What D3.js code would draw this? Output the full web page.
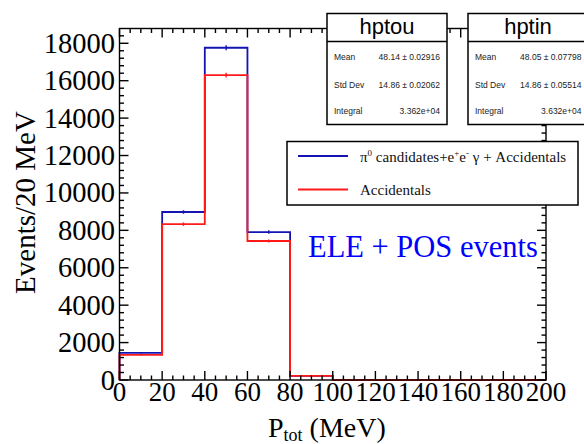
<!DOCTYPE html>
<html>
<head>
<meta charset="utf-8">
<script src="https://cdn.jsdelivr.net/npm/d3@7"></script>
<style>
  html, body { margin: 0; padding: 0; background: #fff; }
  svg { display: block; }
</style>
</head>
<body>
<svg id="chart" width="584" height="444"></svg>
<script>
// P_tot histograms, 20 MeV bins from 0 to 200 MeV
const binEdges = [0, 20, 40, 60, 80, 100, 120, 140, 160, 180, 200];
const signalPlusAcc = [1450, 8980, 17760, 7910, 220, 0, 0, 0, 0, 0];   // hptin
const accidentals   = [1340, 8330, 16300, 7430, 220, 0, 0, 0, 0, 0];   // hptou
const xTicks = [0, 20, 40, 60, 80, 100, 120, 140, 160, 180, 200];
const yTicks = [0, 2000, 4000, 6000, 8000, 10000, 12000, 14000, 16000, 18000];

const statsOut = { name: "hptou", mean: "48.14 \u00b1 0.02916", std: "14.86 \u00b1 0.02062", integral: "3.362e+04" };
const statsIn  = { name: "hptin", mean: "48.05 \u00b1 0.07798", std: "14.86 \u00b1 0.05514", integral: "3.632e+04" };

const svg = d3.select("#chart");
const serif = "'Liberation Serif', 'Times New Roman', serif";
const sans = "'Liberation Sans', Arial, sans-serif";
const BLUE = "#1414b4", RED = "#ff1a1a";

const frame = { left: 119.5, right: 546, top: 28.5, bottom: 380 };
const x = d3.scaleLinear().domain([0, 200]).range([frame.left, frame.right]);
const y = d3.scaleLinear().domain([0, 18790]).range([frame.bottom, frame.top]);

svg.append("rect").attr("width", 584).attr("height", 444).attr("fill", "#fff");

// histogram outlines
function stepPoints(values) {
  const pts = [[binEdges[0], 0]];
  values.forEach((v, i) => { pts.push([binEdges[i], v]); pts.push([binEdges[i + 1], v]); });
  pts.push([binEdges[binEdges.length - 1], 0]);
  return pts;
}
const line = d3.line().x(d => x(d[0])).y(d => y(d[1]));

function drawHist(values, color) {
  const g = svg.append("g");
  g.append("path").attr("d", line(stepPoints(values)))
    .attr("fill", "none").attr("stroke", color).attr("stroke-width", 1.8);
  values.forEach((v, i) => {
    if (v <= 0) return;
    const c = (binEdges[i] + binEdges[i + 1]) / 2, e = Math.sqrt(v);
    g.append("line").attr("x1", x(c)).attr("x2", x(c))
      .attr("y1", y(v - e)).attr("y2", y(v + e))
      .attr("stroke", color).attr("stroke-width", 1.4);
  });
}
drawHist(signalPlusAcc, BLUE);
drawHist(accidentals, RED);

// frame and inward ticks on all four sides
const axes = svg.append("g").attr("stroke", "#000").attr("stroke-width", 1.4).attr("fill", "none");
const xMinor = d3.range(0, 201, 5);
const yMinor = d3.range(0, 18791, 400);
xMinor.forEach(v => {
  const len = v % 20 === 0 ? 9 : 4.5;
  axes.append("line").attr("x1", x(v)).attr("x2", x(v)).attr("y1", frame.bottom).attr("y2", frame.bottom - len);
  axes.append("line").attr("x1", x(v)).attr("x2", x(v)).attr("y1", frame.top).attr("y2", frame.top + len);
});
yMinor.forEach(v => {
  const len = v % 2000 === 0 ? 9 : 4.5;
  axes.append("line").attr("y1", y(v)).attr("y2", y(v)).attr("x1", frame.left).attr("x2", frame.left + len);
  axes.append("line").attr("y1", y(v)).attr("y2", y(v)).attr("x1", frame.right).attr("x2", frame.right - len);
});
axes.append("rect").attr("x", frame.left).attr("y", frame.top)
  .attr("width", frame.right - frame.left).attr("height", frame.bottom - frame.top);

// tick labels
svg.append("g").selectAll("text").data(xTicks).join("text")
  .attr("x", d => x(d)).attr("y", 401).attr("text-anchor", "middle")
  .attr("font-family", serif).attr("font-size", 27).text(d => d);
svg.append("g").selectAll("text").data(yTicks).join("text")
  .attr("x", 115).attr("y", d => y(d) + 9.5).attr("text-anchor", "end")
  .attr("font-family", serif).attr("font-size", 28.5).text(d => d);

// axis titles
svg.append("text").attr("transform", "translate(35,202.5) rotate(-90)")
  .attr("text-anchor", "middle").attr("font-family", serif).attr("font-size", 29)
  .text("Events/20 MeV");
const xt = svg.append("text").attr("x", 268).attr("y", 437)
  .attr("font-family", serif).attr("font-size", 28);
xt.append("tspan").text("P");
xt.append("tspan").attr("font-size", 18).attr("dy", 4).text("tot");
xt.append("tspan").attr("dy", -4).text(" (MeV)");

// stats boxes
function statBox(s, x0, valueRight) {
  const g = svg.append("g");
  const w = 120, top = 13.5, sep = 41.5, bot = 124.5;
  g.append("rect").attr("x", x0).attr("y", top).attr("width", w).attr("height", bot - top)
    .attr("fill", "#fff").attr("stroke", "#000").attr("stroke-width", 1.5);
  g.append("line").attr("x1", x0).attr("x2", x0 + w).attr("y1", sep).attr("y2", sep)
    .attr("stroke", "#000").attr("stroke-width", 1.5);
  g.append("text").attr("x", x0 + w / 2).attr("y", 33.5).attr("text-anchor", "middle")
    .attr("font-family", sans).attr("font-size", 22).text(s.name);
  const rows = [["Mean", s.mean, 60], ["Std Dev", s.std, 88], ["Integral", s.integral, 114]];
  rows.forEach(r => {
    g.append("text").attr("x", x0 + 7).attr("y", r[2]).attr("font-family", sans)
      .attr("font-size", 8.5).attr("fill", "#222").text(r[0]);
    g.append("text").attr("x", valueRight).attr("y", r[2]).attr("text-anchor", "end")
      .attr("font-family", sans).attr("font-size", 8.5).attr("fill", "#222").text(r[1]);
  });
}
statBox(statsOut, 327, 440);
statBox(statsIn, 468, 581.5);

// legend
const lg = svg.append("g");
lg.append("rect").attr("x", 287).attr("y", 141.5).attr("width", 291).attr("height", 63.5)
  .attr("fill", "#fff").attr("stroke", "#000").attr("stroke-width", 1.5);
const entries = [
  { color: BLUE, y: 156 },
  { color: RED, y: 189.5 }
];
entries.forEach(e => lg.append("line").attr("x1", 298).attr("x2", 348)
  .attr("y1", e.y).attr("y2", e.y).attr("stroke", e.color).attr("stroke-width", 1.8));
const t1 = lg.append("text").attr("x", 360).attr("y", 161.5)
  .attr("font-family", serif).attr("font-size", 15).attr("fill", "#111");
t1.append("tspan").text("\u03c0");
t1.append("tspan").attr("font-size", 9).attr("dy", -6).text("0");
t1.append("tspan").attr("dy", 6).text(" candidates+e");
t1.append("tspan").attr("font-size", 9).attr("dy", -6).text("+");
t1.append("tspan").attr("dy", 6).text("e");
t1.append("tspan").attr("font-size", 9).attr("dy", -6).text("-");
t1.append("tspan").attr("dy", 6).text(" \u03b3 + Accidentals");
lg.append("text").attr("x", 360).attr("y", 194.5)
  .attr("font-family", serif).attr("font-size", 15).attr("fill", "#111").text("Accidentals");

// annotation
svg.append("text").attr("x", 308).attr("y", 256.5)
  .attr("font-family", serif).attr("font-size", 30.5).attr("fill", "#0000ff")
  .text("ELE + POS events");
</script>
</body>
</html>
